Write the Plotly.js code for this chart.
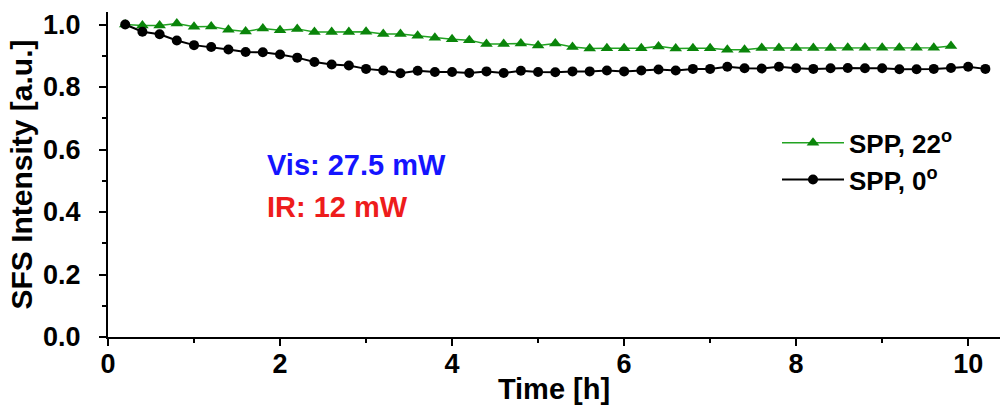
<!DOCTYPE html>
<html>
<head>
<meta charset="utf-8">
<script src="https://cdn.plot.ly/plotly-3.0.1.min.js"></script>
<style>html,body{margin:0;padding:0;background:#fff;}#chart{width:1002px;height:412px;}</style>
</head>
<body>
<div id="chart"></div>
<script>
// Time [h]
const timeGreen = [0.2,0.4,0.6,0.8,1.0,1.2,1.4,1.6,1.8,2.0,2.2,2.4,2.6,2.8,3.0,3.2,3.4,3.6,3.8,4.0,4.2,4.4,4.6,4.8,5.0,5.2,5.4,5.6,5.8,6.0,6.2,6.4,6.6,6.8,7.0,7.2,7.4,7.6,7.8,8.0,8.2,8.4,8.6,8.8,9.0,9.2,9.4,9.6,9.8];
const spp22 = [1.000,0.997,0.997,1.003,0.993,0.994,0.983,0.978,0.987,0.982,0.986,0.976,0.976,0.976,0.977,0.970,0.970,0.964,0.958,0.953,0.950,0.938,0.938,0.939,0.933,0.939,0.928,0.923,0.924,0.924,0.924,0.930,0.923,0.924,0.924,0.919,0.919,0.925,0.925,0.925,0.925,0.925,0.926,0.926,0.926,0.926,0.926,0.926,0.931];
const timeBlack = [0.2,0.4,0.6,0.8,1.0,1.2,1.4,1.6,1.8,2.0,2.2,2.4,2.6,2.8,3.0,3.2,3.4,3.6,3.8,4.0,4.2,4.4,4.6,4.8,5.0,5.2,5.4,5.6,5.8,6.0,6.2,6.4,6.6,6.8,7.0,7.2,7.4,7.6,7.8,8.0,8.2,8.4,8.6,8.8,9.0,9.2,9.4,9.6,9.8,10.0,10.2];
const spp0 = [1.000,0.977,0.969,0.949,0.934,0.928,0.920,0.912,0.911,0.904,0.894,0.880,0.872,0.869,0.858,0.853,0.844,0.852,0.848,0.848,0.845,0.850,0.845,0.852,0.848,0.847,0.850,0.850,0.853,0.850,0.853,0.856,0.853,0.858,0.858,0.865,0.860,0.859,0.865,0.860,0.858,0.860,0.861,0.860,0.860,0.857,0.857,0.858,0.861,0.865,0.858];
const seriesNames = ["SPP, 22<sup>o</sup>", "SPP, 0<sup>o</sup>"];
const xTickVals = [0,2,4,6,8,10];
const yTickVals = [0.0,0.2,0.4,0.6,0.8,1.0];
const xTitle = "Time [h]";
const yTitle = "SFS Intensity [a.u.]";
const noteVis = "Vis: 27.5 mW";
const noteIR = "IR: 12 mW";

const FONT = "Liberation Sans, Arial, Helvetica, sans-serif";

const traces = [
  {x: timeGreen, y: spp22, name: seriesNames[0], type: 'scatter', mode: 'lines+markers',
   line: {color: '#22a322', width: 1.5},
   marker: {symbol: 'triangle-up', size: 11, color: '#0a850a'}},
  {x: timeBlack, y: spp0, name: seriesNames[1], type: 'scatter', mode: 'lines+markers',
   line: {color: '#000000', width: 2},
   marker: {symbol: 'circle', size: 10, color: '#000000'}}
];

const axisCommon = {
  showgrid: false, zeroline: false, showline: true, linecolor: '#000', linewidth: 2,
  ticks: 'outside', ticklen: 7, tickwidth: 2, tickcolor: '#000',
  tickfont: {family: FONT, size: 27, color: '#000', weight: 'bold'},
  mirror: false
};

const layout = {
  width: 1002, height: 412,
  margin: {l: 108, r: 2, t: 12, b: 75},
  paper_bgcolor: '#fff', plot_bgcolor: '#fff',
  showlegend: true,
  legend: {x: 0.75, y: 0.67, xanchor: 'left', yanchor: 'top', bgcolor: 'rgba(0,0,0,0)',
           font: {family: FONT, size: 26, color: '#000', weight: 'bold'}, itemwidth: 62},
  xaxis: Object.assign({}, axisCommon, {
    range: [0, 10.37], tickvals: xTickVals, ticktext: xTickVals.map(String),
    ticklabelstandoff: -5,
    minor: {dtick: 1, tick0: 0, ticks: 'outside', ticklen: 4, tickwidth: 2, tickcolor: '#000'},
    title: {text: xTitle, font: {family: FONT, size: 29, color: '#000', weight: 'bold'}, standoff: 0}
  }),
  yaxis: Object.assign({}, axisCommon, {
    range: [0, 1.04], tickvals: yTickVals, ticktext: yTickVals.map(v => v.toFixed(1)),
    ticklabelstandoff: 13,
    minor: {dtick: 0.1, tick0: 0, ticks: 'outside', ticklen: 4, tickwidth: 2, tickcolor: '#000'},
    title: {text: yTitle, font: {family: FONT, size: 30, color: '#000', weight: 'bold'}, standoff: 2}
  }),
  annotations: [
    {xref: 'paper', yref: 'paper', x: 0.176, y: 0.53, xanchor: 'left', yanchor: 'middle', showarrow: false,
     text: noteVis, font: {family: FONT, size: 29, color: '#1414ff', weight: 'bold'}},
    {xref: 'paper', yref: 'paper', x: 0.176, y: 0.40, xanchor: 'left', yanchor: 'middle', showarrow: false,
     text: noteIR, font: {family: FONT, size: 29, color: '#ee1c1c', weight: 'bold'}}
  ]
};

Plotly.newPlot('chart', traces, layout, {displayModeBar: false, staticPlot: true});
</script>
</body>
</html>
